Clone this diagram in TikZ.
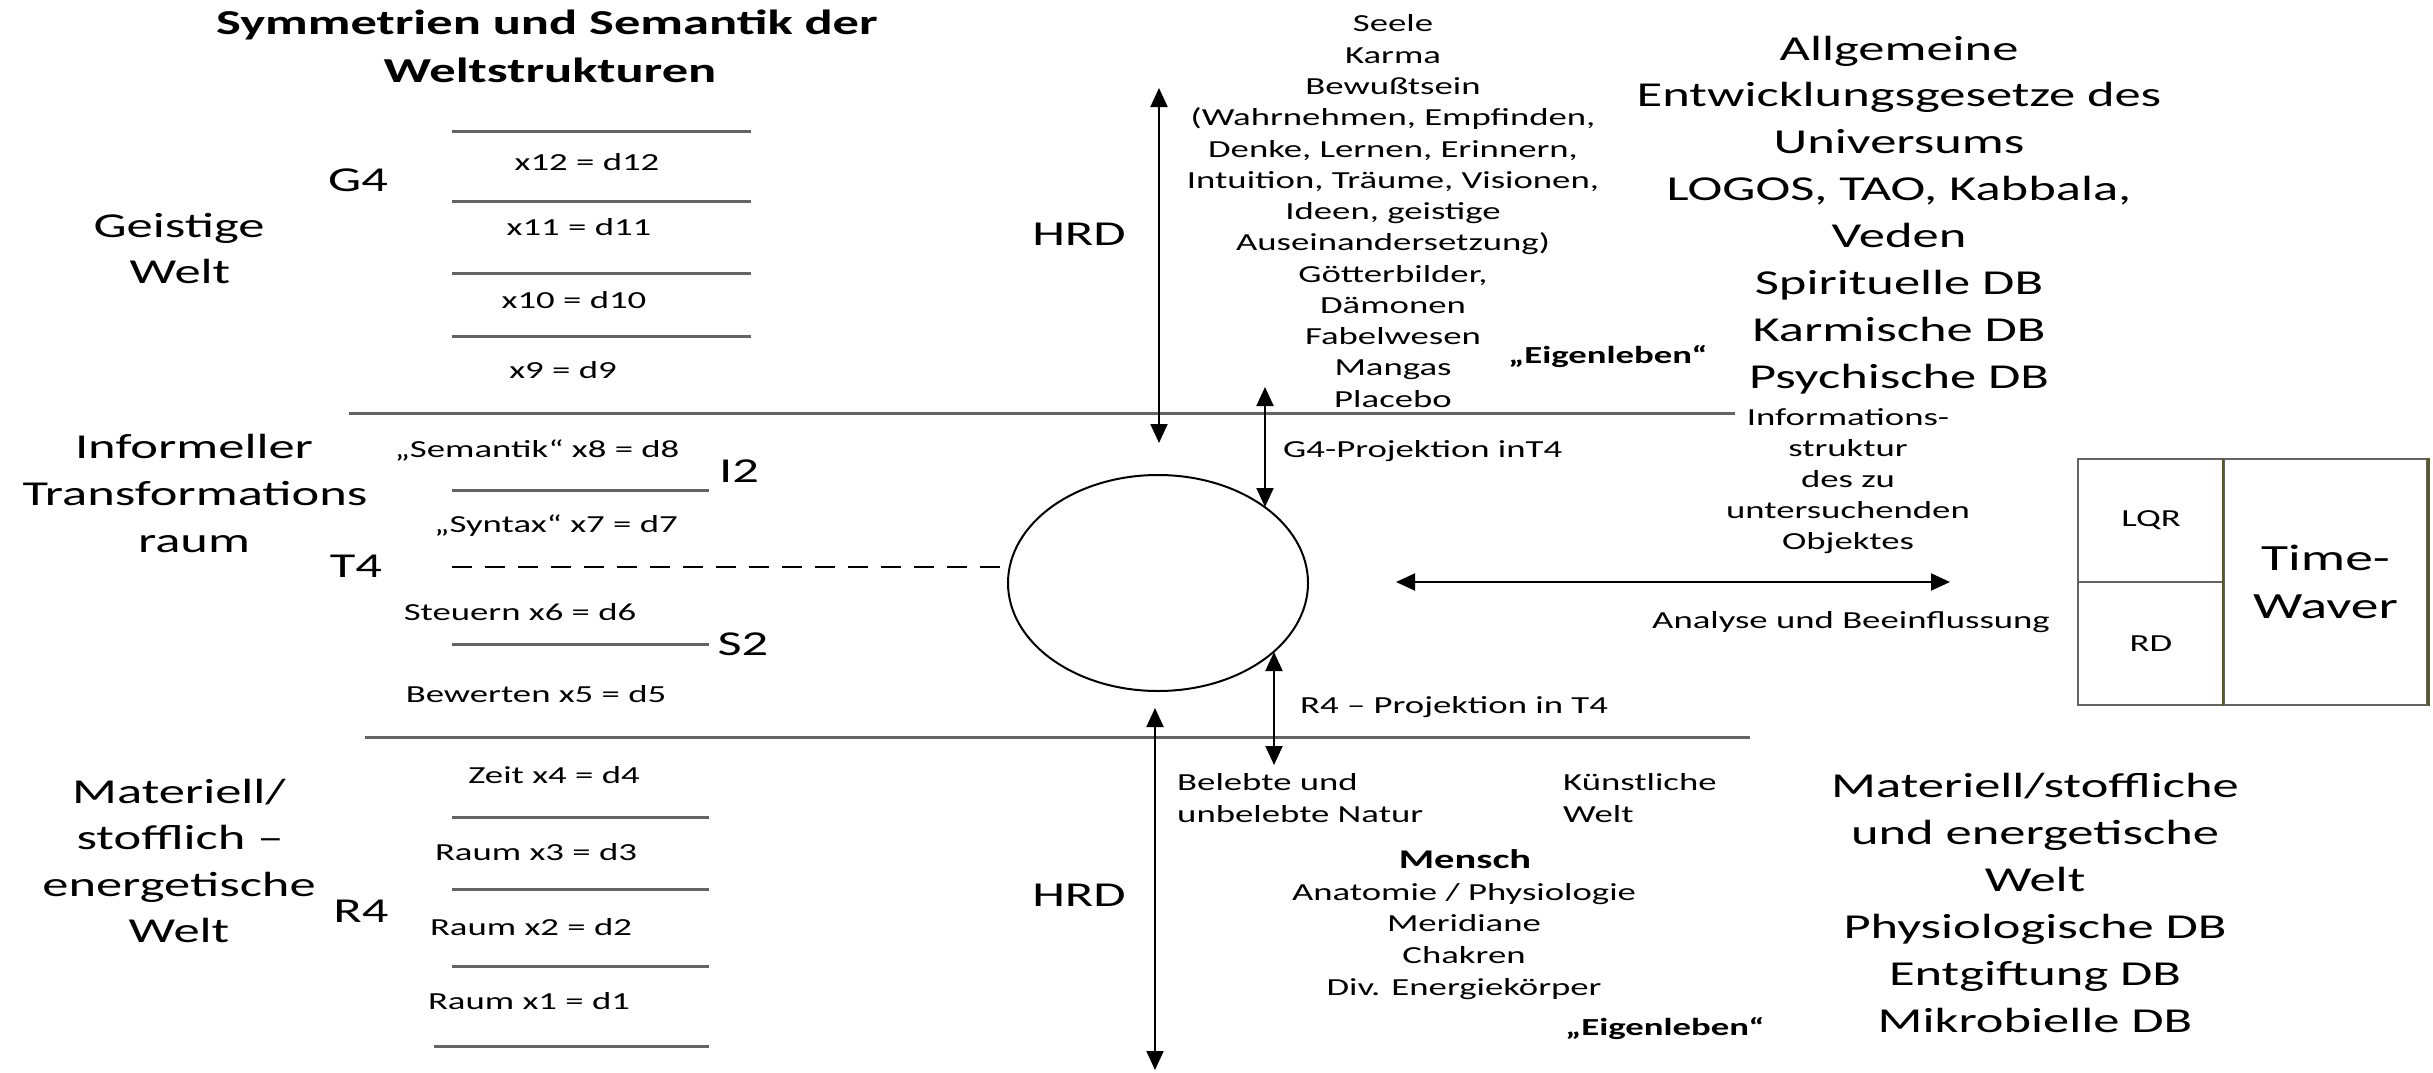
\documentclass[tikz,border=0pt]{standalone}
\usepackage{fontspec}
\setmainfont{Carlito}[FakeStretch=1.5]
\usetikzlibrary{arrows.meta,shapes.geometric}
\definecolor{linegray}{RGB}{100,100,100}
\definecolor{boxolive}{RGB}{90,90,40}
\begin{document}
\begin{tikzpicture}[x=1pt,y=-1pt,
  big/.style={font=\fontsize{35}{47}\selectfont, inner sep=0pt, anchor=base},
  bigb/.style={big, font=\fontsize{35}{47}\selectfont\bfseries},
  small/.style={font=\fontsize{24.5}{31}\selectfont, inner sep=0pt, anchor=base},
  smallb/.style={small, font=\fontsize{24.5}{31}\selectfont\bfseries},
  rulegray/.style={draw=linegray, line width=3pt},
  conn/.style={draw=black, line width=2pt, {Triangle[length=19pt,width=17pt]}-{Triangle[length=19pt,width=17pt]}},
  cell/.style={draw=linegray, line width=2.5pt, inner sep=0pt, align=center}
]
\path[use as bounding box, fill=white] (0,0) rectangle (2433,1073);

% title
\node[bigb] (title1) at (547,35) {Symmetrien und Semantik der};
\node[bigb] (title2) at (550,82) {Weltstrukturen};

% left labels
\node[big] (geist1) at (179,237) {Geistige};
\node[big] (geist2) at (180,283) {Welt};
\node[big] (g4) at (358,191) {G4};
\node[big] (info1) at (194,458) {Informeller};
\node[big] (info2) at (195,505) {Transformations};
\node[big] (info3) at (194,552) {raum};
\node[big] (t4) at (356,577) {T4};
\node[big] (i2) at (739,482) {I2};
\node[big] (s2) at (743,655) {S2};
\node[big] (mat1) at (179,803) {Materiell/};
\node[big] (mat2) at (180,849) {stofflich –};
\node[big] (mat3) at (179,896) {energetische};
\node[big] (mat4) at (179,942) {Welt};
\node[big] (r4) at (361,922) {R4};

% dimension table
\node[small] (d12) at (587,170) {x12 = d12};
\node[small] (d11) at (579,235) {x11 = d11};
\node[small] (d10) at (574,308) {x10 = d10};
\node[small] (d9) at (563,378) {x9 = d9};
\node[small] (d8) at (537,457) {„Semantik“ x8 = d8};
\node[small] (d7) at (556,532) {„Syntax“ x7 = d7};
\node[small] (d6) at (520,620) {Steuern x6 = d6};
\node[small] (d5) at (536,702) {Bewerten x5 = d5};
\node[small] (d4) at (554,783) {Zeit x4 = d4};
\node[small] (d3) at (536,860) {Raum x3 = d3};
\node[small] (d2) at (531,935) {Raum x2 = d2};
\node[small] (d1) at (529,1009) {Raum x1 = d1};

% horizontal rules
\draw[rulegray] (452,131) -- (751,131);
\draw[rulegray] (452,201) -- (751,201);
\draw[rulegray] (452,273) -- (751,273);
\draw[rulegray] (452,336) -- (751,336);
\draw[rulegray] (349,413) -- (1735,413);
\draw[rulegray] (452,490) -- (709,490);
\draw[rulegray] (452,644) -- (709,644);
\draw[rulegray] (365,737) -- (1750,737);
\draw[rulegray] (452,817) -- (709,817);
\draw[rulegray] (452,889) -- (709,889);
\draw[rulegray] (452,966) -- (709,966);
\draw[rulegray] (434,1046) -- (709,1046);

% central object
\node[draw=black, line width=2pt, ellipse, minimum width=300pt, minimum height=216pt, inner sep=0pt] (obj) at (1158,583) {};
\coordinate (dashstart) at (452,567);
\coordinate (dashend) at (1009,567);
\draw[black, line width=2.5pt, dash pattern=on 20pt off 13pt] (dashstart) -- (dashend);

% HRD
\node[big] (hrd1) at (1079,245) {HRD};
\node[big] (hrd2) at (1079,906) {HRD};
\coordinate (hrdAtop) at (1159,88);
\coordinate (hrdAbot) at (1159,443);
\draw[conn] (hrdAtop) -- (hrdAbot);
\coordinate (hrdBtop) at (1155,708);
\coordinate (hrdBbot) at (1155,1070);
\draw[conn] (hrdBtop) -- (hrdBbot);

% projections
\coordinate (g4top) at (1265,387);
\coordinate (g4bot) at (1265,507);
\draw[conn] (g4top) -- (g4bot);
\node[small, anchor=base west] (g4proj) at (1283,457) {G4-Projektion inT4};
\coordinate (r4top) at (1274,652);
\coordinate (r4bot) at (1274,765);
\draw[conn] (r4top) -- (r4bot);
\node[small, anchor=base west] (r4proj) at (1300,713) {R4 – Projektion in T4};

% spiritual column
\foreach \t [count=\i from 0] in {Seele, Karma, Bewußtsein, {(Wahrnehmen, Empfinden,}, {Denke, Lernen, Erinnern,}, {Intuition, Träume, Visionen,}, {Ideen, geistige}, {Auseinandersetzung)}, {Götterbilder,}, Dämonen, Fabelwesen, Mangas, Placebo}
  \node[small] (seele\i) at (1393, {32+31.25*\i}) {\t};
\node[smallb] (eigen1) at (1608,363) {„Eigenleben“};

% right top group
\foreach \t [count=\i from 0] in {Allgemeine, Entwicklungsgesetze des, Universums, {LOGOS, TAO, Kabbala,}, Veden, Spirituelle DB, Karmische DB, Psychische DB}
  \node[big] (logos\i) at (1899, {60+46.9*\i}) {\t};

% information structure
\foreach \t [count=\i from 0] in {Informations-, struktur, des zu, untersuchenden, Objektes}
  \node[small] (istr\i) at (1848, {425+31*\i}) {\t};

% analysis arrow
\coordinate (anaL) at (1396,582);
\coordinate (anaR) at (1950,582);
\draw[conn] (anaL) -- (anaR);
\node[small, anchor=base west] (ana) at (1652,628) {Analyse und Beeinflussung};

% TimeWaver box
\node[cell, minimum width=146pt, minimum height=123pt, font=\fontsize{24.5}{31}\selectfont] (lqr) at (2151,520.5) {LQR};
\node[cell, minimum width=146pt, minimum height=123pt, font=\fontsize{24.5}{31}\selectfont] (rd) at (2151,643.5) {RD};
\node[cell, minimum width=203pt, minimum height=246pt, font=\fontsize{37}{48}\selectfont] (tw) at (2325.5,582) {Time-\\Waver};
\draw[boxolive, line width=2.5pt] (tw.north west) -- (tw.south west);
\draw[boxolive, line width=2.5pt] (tw.north east) -- (tw.south east);

% material world
\node[small, anchor=base west] (nat1) at (1177,790) {Belebte und};
\node[small, anchor=base west] (nat2) at (1177,822) {unbelebte Natur};
\node[small, anchor=base west] (kw1) at (1563,790) {Künstliche};
\node[small, anchor=base west] (kw2) at (1563,822) {Welt};
\node[big, font=\fontsize{27}{33}\selectfont\bfseries] (mensch) at (1465,868) {Mensch};
\foreach \t [count=\i from 0] in {Anatomie / Physiologie, Meridiane, Chakren, Div. Energiekörper}
  \node[small] (mensch\i) at (1464, {900+31.7*\i}) {\t};
\node[smallb] (eigen2) at (1665,1035) {„Eigenleben“};

% right bottom group
\foreach \t [count=\i from 0] in {Materiell/stoffliche, und energetische, Welt, Physiologische DB, Entgiftung DB, Mikrobielle DB}
  \node[big] (phys\i) at (2035, {797+47*\i}) {\t};
\end{tikzpicture}
\end{document}
